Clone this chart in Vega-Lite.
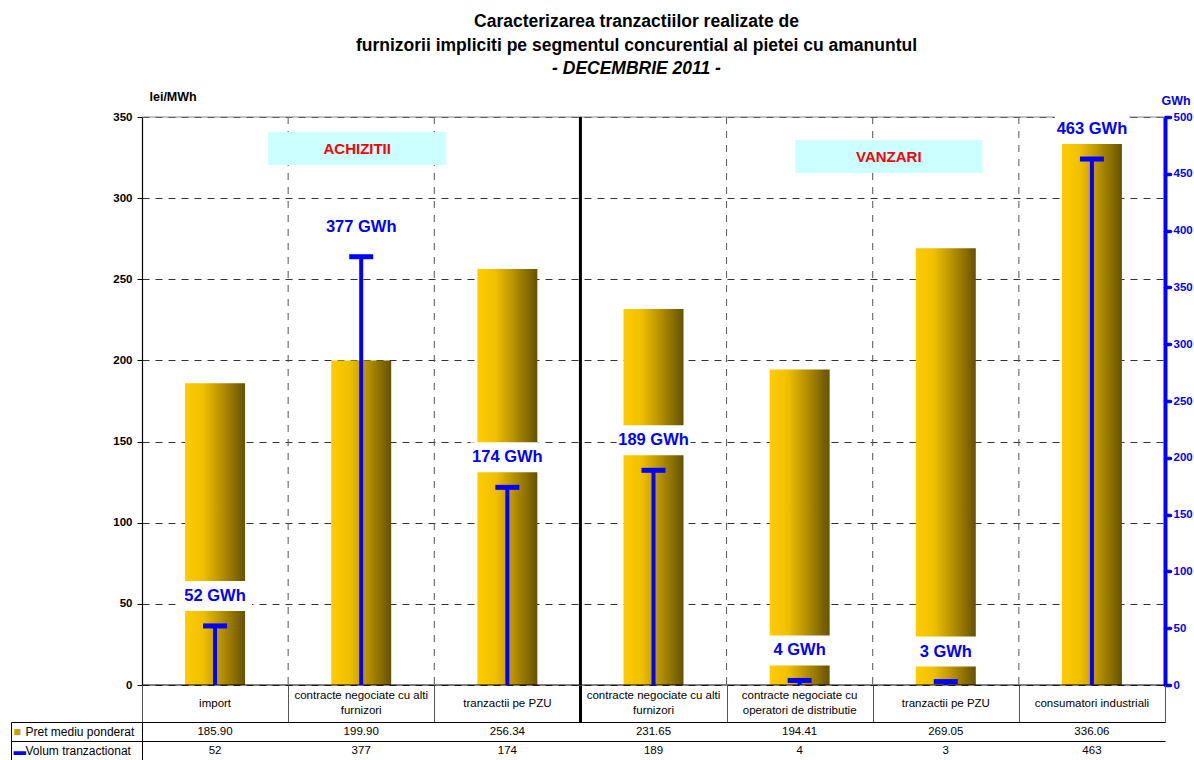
{
  "$schema": "https://vega.github.io/schema/vega-lite/v6.json",
  "background": "white",
  "padding": {"left": 10, "top": 13, "right": 0, "bottom": 0},
  "bounds": "flush",
  "spacing": 0,
  "config": {"font": "Liberation Sans", "view": {"stroke": null}},
  "title": {
    "text": ["Caracterizarea tranzactiilor realizate de", "furnizorii impliciti pe segmentul concurential al pietei cu amanuntul"],
    "subtitle": "- DECEMBRIE 2011 -",
    "anchor": "middle",
    "frame": "group",
    "dx": -17,
    "fontSize": 17.5,
    "fontWeight": "bold",
    "color": "#000",
    "lineHeight": 24,
    "subtitleFontSize": 17.5,
    "subtitleFontWeight": "bold",
    "subtitleFontStyle": "italic",
    "subtitleColor": "#000",
    "subtitlePadding": 5,
    "subtitleLineHeight": 24,
    "offset": 13
  },
  "datasets": {
    "date": [
      {"id": "A1", "segment": "ACHIZITII", "categorie": "import", "pret": 185.90, "volum": 52},
      {"id": "A2", "segment": "ACHIZITII", "categorie": "contracte negociate cu alti\nfurnizori", "pret": 199.90, "volum": 377},
      {"id": "A3", "segment": "ACHIZITII", "categorie": "tranzactii pe PZU", "pret": 256.34, "volum": 174},
      {"id": "V1", "segment": "VANZARI", "categorie": "contracte negociate cu alti\nfurnizori", "pret": 231.65, "volum": 189},
      {"id": "V2", "segment": "VANZARI", "categorie": "contracte negociate cu\noperatori de distributie", "pret": 194.41, "volum": 4},
      {"id": "V3", "segment": "VANZARI", "categorie": "tranzactii pe PZU", "pret": 269.05, "volum": 3},
      {"id": "V4", "segment": "VANZARI", "categorie": "consumatori industriali", "pret": 336.06, "volum": 463}
    ]
  },
  "resolve": {"scale": {"x": "independent", "y": "independent"}},
  "vconcat": [
    {
      "width": 1023,
      "height": 568,
      "data": {"name": "date"},
      "layer": [
        {
          "transform": [{"filter": "datum.id !== 'A1' && datum.id !== 'V1'"}],
          "mark": {"type": "rule", "color": "#555", "strokeWidth": 1, "strokeDash": [7, 7]},
          "encoding": {
            "x": {"field": "id", "type": "nominal", "bandPosition": 0, "scale": {"paddingInner": 0, "paddingOuter": 0}, "axis": null}
          }
        },
        {
          "mark": {
            "type": "bar",
            "width": 60,
            "color": {
              "gradient": "linear", "x1": 0, "x2": 1, "y1": 0, "y2": 0,
              "stops": [
                {"offset": 0, "color": "#FFCC00"},
                {"offset": 0.3, "color": "#F0C000"},
                {"offset": 0.6, "color": "#B89200"},
                {"offset": 1, "color": "#665200"}
              ]
            }
          },
          "encoding": {
            "x": {"field": "id", "type": "nominal", "scale": {"paddingInner": 0, "paddingOuter": 0}, "axis": null},
            "y": {
              "field": "pret", "type": "quantitative",
              "scale": {"domain": [0, 350], "nice": false},
              "axis": {
                "orient": "left",
                "title": "lei/MWh", "titleAngle": 0, "titleAlign": "left", "titleBaseline": "middle",
                "titleX": 7, "titleY": -21, "titleFontSize": 12.5, "titleFontWeight": "bold", "titleColor": "#000",
                "values": [0, 50, 100, 150, 200, 250, 300, 350],
                "labelFontSize": 11.5, "labelFontWeight": "bold", "labelColor": "#000", "labelPadding": 5,
                "tickSize": 5, "tickColor": "#000", "domainColor": "#000", "domainWidth": 1.2,
                "grid": true, "gridColor": "#333", "gridDash": [7, 6]
              }
            }
          }
        },
        {
          "data": {"values": [{}]},
          "mark": {"type": "rule", "color": "#888", "strokeWidth": 1},
          "encoding": {"y": {"datum": 350, "type": "quantitative", "scale": {"domain": [0, 350], "nice": false}, "axis": null}}
        },
        {
          "data": {"values": [{}]},
          "mark": {"type": "rule", "color": "#000", "strokeWidth": 1.2},
          "encoding": {"y": {"datum": 0, "type": "quantitative", "scale": {"domain": [0, 350], "nice": false}, "axis": null}}
        },
        {
          "data": {"values": [{}]},
          "mark": {"type": "rule", "color": "#000", "strokeWidth": 3},
          "encoding": {"x": {"datum": "V1", "type": "nominal", "bandPosition": 0, "axis": null}}
        },
        {
          "data": {"values": [{}]},
          "mark": {"type": "bar", "width": 178, "xOffset": -4, "color": "#CCFFFF"},
          "encoding": {
            "x": {"datum": "A2", "type": "nominal", "axis": null},
            "y": {"datum": 340.7, "type": "quantitative", "scale": {"domain": [0, 350], "nice": false}, "axis": null},
            "y2": {"datum": 320.4}
          }
        },
        {
          "data": {"values": [{}]},
          "mark": {"type": "text", "text": "ACHIZITII", "xOffset": -4, "color": "#FF0000", "fontSize": 15, "fontWeight": "bold", "baseline": "middle"},
          "encoding": {
            "x": {"datum": "A2", "type": "nominal", "axis": null},
            "y": {"datum": 330.5, "type": "quantitative", "scale": {"domain": [0, 350], "nice": false}, "axis": null}
          }
        },
        {
          "data": {"values": [{}]},
          "mark": {"type": "bar", "width": 187, "xOffset": -57, "color": "#CCFFFF"},
          "encoding": {
            "x": {"datum": "V3", "type": "nominal", "axis": null},
            "y": {"datum": 335.8, "type": "quantitative", "scale": {"domain": [0, 350], "nice": false}, "axis": null},
            "y2": {"datum": 315.5}
          }
        },
        {
          "data": {"values": [{}]},
          "mark": {"type": "text", "text": "VANZARI", "xOffset": -57, "color": "#FF0000", "fontSize": 15, "fontWeight": "bold", "baseline": "middle"},
          "encoding": {
            "x": {"datum": "V3", "type": "nominal", "axis": null},
            "y": {"datum": 325.6, "type": "quantitative", "scale": {"domain": [0, 350], "nice": false}, "axis": null}
          }
        },
        {
          "mark": {"type": "rule", "color": "#0000FF", "strokeWidth": 4},
          "encoding": {
            "x": {"field": "id", "type": "nominal", "axis": null},
            "y": {
              "field": "volum", "type": "quantitative",
              "scale": {"domain": [0, 500], "nice": false},
              "axis": {
                "orient": "right",
                "title": "GWh", "titleAngle": 0, "titleAlign": "left", "titleBaseline": "middle",
                "titleX": -4, "titleY": -17, "titleColor": "#0000FF", "titleFontSize": 12.5, "titleFontWeight": "bold",
                "values": [0, 50, 100, 150, 200, 250, 300, 350, 400, 450, 500],
                "domainColor": "#0000FF", "domainWidth": 4,
                "tickColor": "#0000FF", "tickSize": 5, "tickWidth": 3.5, "tickCap": "round",
                "labelColor": "#0000FF", "labelFontWeight": "bold", "labelFontSize": 11.5, "labelPadding": 3,
                "grid": false
              }
            },
            "y2": {"datum": 0}
          }
        },
        {
          "mark": {"type": "tick", "color": "#0000FF", "size": 24, "thickness": 5, "opacity": 1},
          "encoding": {
            "x": {"field": "id", "type": "nominal", "axis": null},
            "y": {"field": "volum", "type": "quantitative", "scale": {"domain": [0, 500], "nice": false}, "axis": null}
          }
        },
        {
          "mark": {"type": "bar", "width": 74, "color": "#FFFFFF", "opacity": 1, "yOffset": -45, "y2Offset": -15},
          "encoding": {
            "x": {"field": "id", "type": "nominal", "axis": null},
            "y": {"field": "volum", "type": "quantitative", "scale": {"domain": [0, 500], "nice": false}, "axis": null},
            "y2": {"field": "volum"}
          }
        },
        {
          "transform": [{"calculate": "datum.volum + ' GWh'", "as": "eticheta"}],
          "mark": {"type": "text", "dy": -30, "baseline": "middle", "color": "#0000FF", "fontSize": 16.5, "fontWeight": "bold"},
          "encoding": {
            "x": {"field": "id", "type": "nominal", "axis": null},
            "y": {"field": "volum", "type": "quantitative", "scale": {"domain": [0, 500], "nice": false}, "axis": null},
            "text": {"field": "eticheta"}
          }
        }
      ],
      "resolve": {"scale": {"y": "independent"}, "axis": {"y": "independent"}}
    },
    {
      "width": 1023,
      "height": 37,
      "data": {"name": "date"},
      "encoding": {
        "x": {
          "field": "id", "type": "nominal",
          "scale": {"paddingInner": 0, "paddingOuter": 0},
          "axis": {
            "title": null, "labels": false, "ticks": false, "domain": false,
            "grid": true, "tickBand": "extent", "gridDash": [],
            "gridColor": {"condition": {"test": "datum.value === 'A3'", "value": "#000"}, "value": "#555"},
            "gridWidth": {"condition": {"test": "datum.value === 'A3'", "value": 3}, "value": 1}
          }
        },
        "text": {"field": "categorie"}
      },
      "layer": [
        {
          "transform": [{"filter": "indexof(datum.categorie, '\\n') < 0"}],
          "mark": {"type": "text", "fontSize": 11.5, "color": "#000", "baseline": "middle"}
        },
        {
          "transform": [{"filter": "indexof(datum.categorie, '\\n') >= 0"}],
          "mark": {"type": "text", "lineBreak": "\n", "fontSize": 11.5, "color": "#000", "baseline": "middle", "lineHeight": 15, "dy": -7.5}
        }
      ]
    },
    {
      "width": 1023,
      "height": 38,
      "data": {"name": "date"},
      "layer": [
        {
          "mark": {"type": "text", "fontSize": 11.5, "color": "#000", "baseline": "middle"},
          "encoding": {
            "x": {
              "field": "id", "type": "nominal",
              "scale": {"paddingInner": 0, "paddingOuter": 0},
              "axis": {
                "title": null, "labels": false, "ticks": false, "domain": false,
                "grid": true, "tickBand": "extent", "gridDash": [],
                "gridColor": {"condition": {"test": "datum.value === 'A3'", "value": "#000"}, "value": "#555"},
                "gridWidth": {"condition": {"test": "datum.value === 'A3'", "value": 3}, "value": 1}
              }
            },
            "y": {
              "datum": "Pret mediu ponderat", "type": "nominal",
              "scale": {"domain": ["Pret mediu ponderat", "Volum tranzactionat"], "paddingInner": 0, "paddingOuter": 0},
              "axis": {
                "orient": "left", "title": null,
                "domain": true, "domainColor": "#000",
                "ticks": true, "tickSize": 131, "tickColor": "#000", "tickBand": "extent",
                "grid": true, "gridColor": "#000", "gridDash": [],
                "labelAlign": "left", "labelPadding": -14, "labelFontSize": 12, "labelColor": "#000", "labelBaseline": "middle"
              }
            },
            "text": {"field": "pret", "format": ".2f"}
          }
        },
        {
          "mark": {"type": "text", "fontSize": 11.5, "color": "#000", "baseline": "middle"},
          "encoding": {
            "x": {"field": "id", "type": "nominal", "axis": null},
            "y": {"datum": "Volum tranzactionat", "type": "nominal", "axis": null},
            "text": {"field": "volum", "format": "d"}
          }
        },
        {
          "mark": {"type": "text", "opacity": 0},
          "encoding": {
            "x": {"field": "id", "type": "nominal", "axis": null},
            "y": {
              "datum": "Volum tranzactionat", "type": "nominal",
              "axis": {
                "orient": "left", "title": null, "offset": 131,
                "domain": true, "domainColor": "#000",
                "ticks": false, "grid": false,
                "labelExpr": "datum.value === 'Pret mediu ponderat' ? '■' : '▬'",
                "labelColor": {"condition": {"test": "datum.value === 'Pret mediu ponderat'", "value": "#C9A000"}, "value": "#0000FF"},
                "labelAlign": "left", "labelPadding": -2, "labelFontSize": 12.5, "labelBaseline": "middle"
              }
            },
            "text": {"value": ""}
          }
        }
      ],
      "resolve": {"axis": {"y": "independent"}}
    }
  ]
}
